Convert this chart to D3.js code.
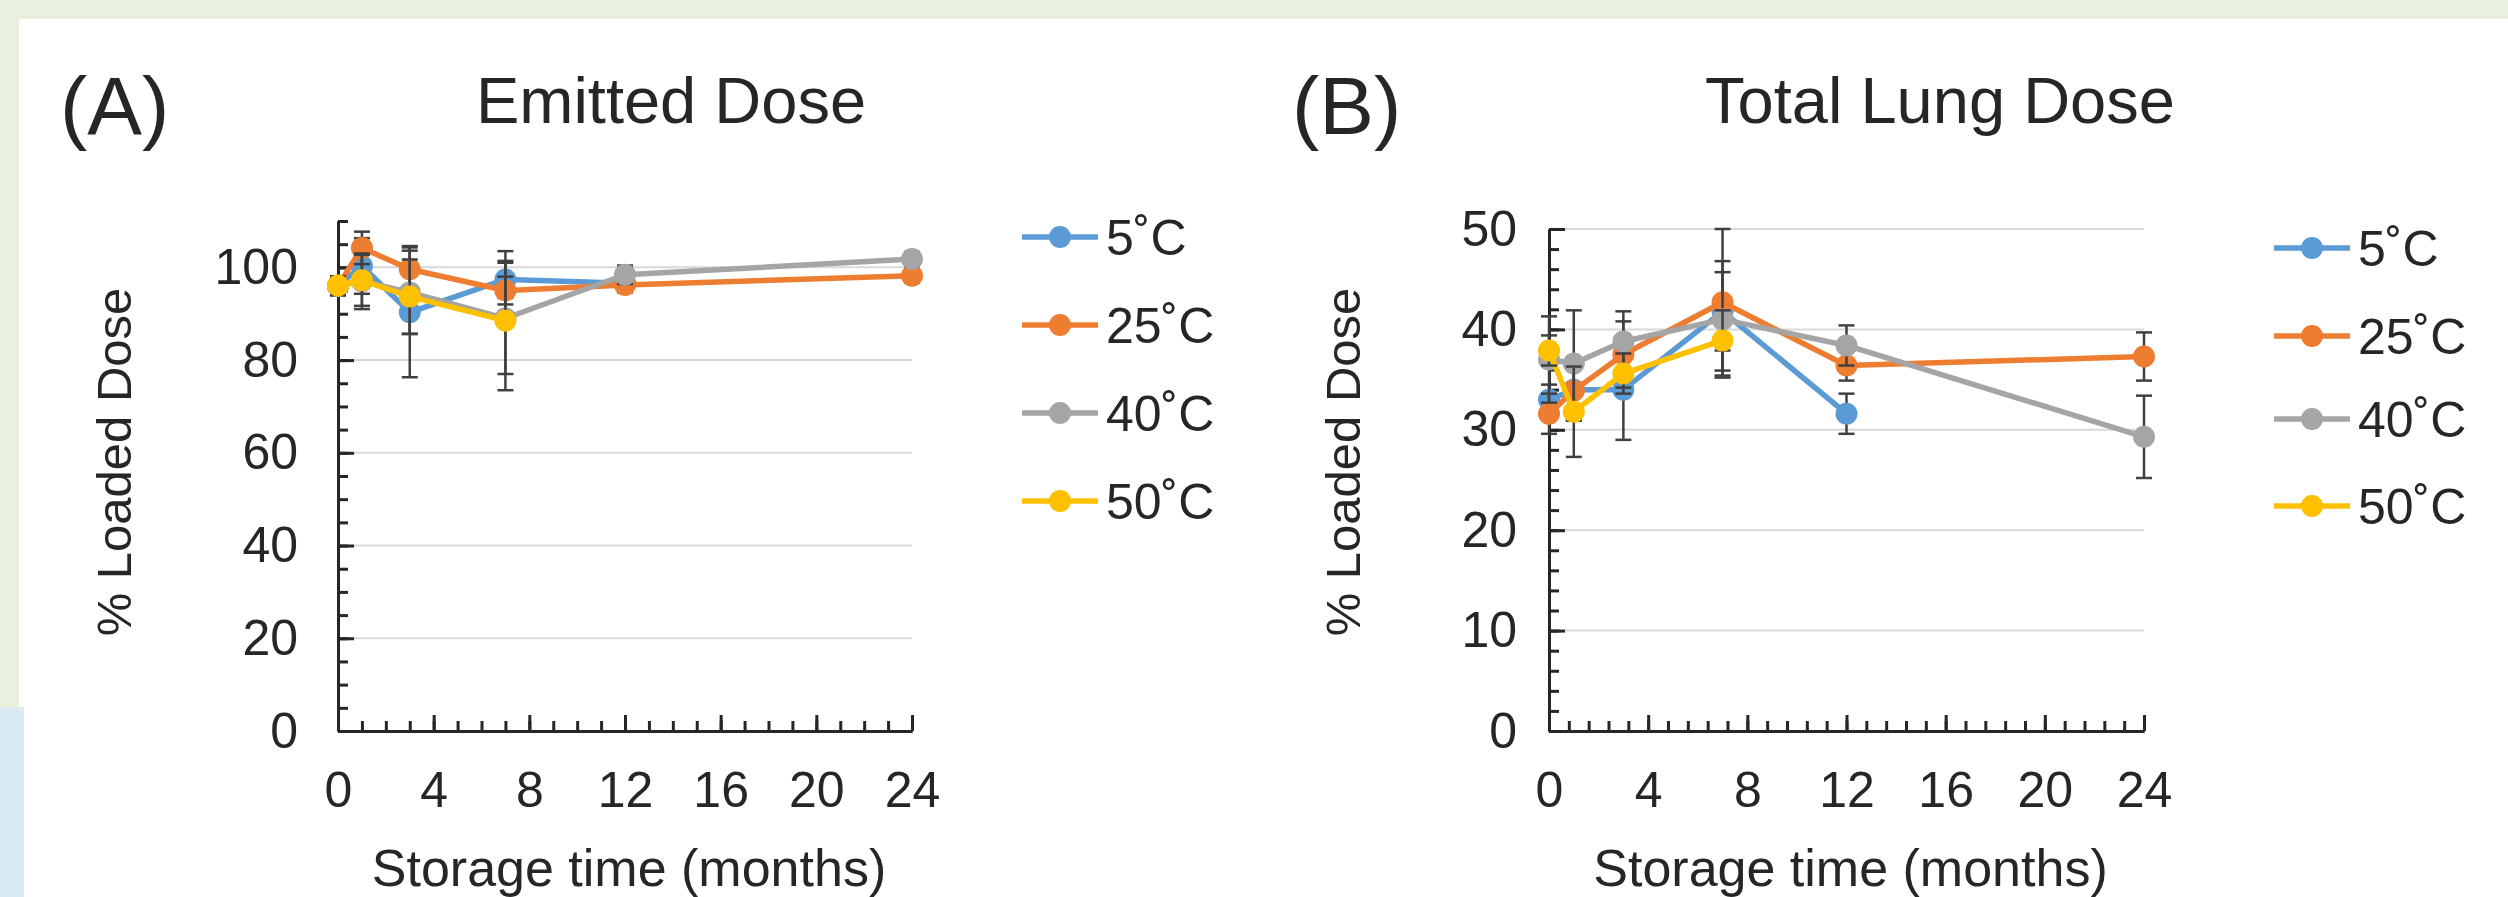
<!DOCTYPE html>
<html>
<head>
<meta charset="utf-8">
<script src="https://cdn.jsdelivr.net/npm/d3@7"></script>
<style>
body { margin: 0; background: #fff; }
svg { display: block; }
</style>
</head>
<body>
<svg id="chart" width="2508" height="897"></svg>
<script>
// storage times (months) and the four storage temperatures
var months = [0, 1, 3, 7, 12, 24];
var seriesNames = ["5˚C", "25˚C", "40˚C", "50˚C"];
var seriesColors = ["#5B9BD5", "#ED7D31", "#A5A5A5", "#FFC000"];

// (A) Emitted dose, % of loaded dose
var emitted5 = [96, 100.3, 90.3, 97.4, 96.6, null];
var emitted25 = [96, 104.2, 99.6, 95.0, 96.2, 98.2];
var emitted40 = [96, 97, 94.6, 89, 98.4, 101.8];
var emitted50 = [96.1, 97.2, 93.7, 88.5, null, null];
var emitted5Err = [2, 6, 14, 4, 2, null];
var emitted25Err = [2, 3.5, 5, 3, 1.5, 1.5];
var emitted40Err = [2, 6, 9, 12, 2, 1.5];
var emitted50Err = [2, 5.5, 8, 15, null, null];

// (B) Total lung dose, % of loaded dose
var lung5 = [33, 34, 34, 41.8, 31.6, null];
var lung25 = [31.6, 33.9, 37.5, 42.7, 36.4, 37.3];
var lung40 = [37, 36.6, 38.8, 41.0, 38.4, 29.3];
var lung50 = [37.9, 31.8, 35.6, 38.9, null, null];
var lung5Err = [1.5, 3, 5, 3.9, 2, null];
var lung25Err = [2, 3, 3.3, 7.3, 1.5, 2.4];
var lung40Err = [4.3, 5.3, 3, 5.8, 2, 4.1];
var lung50Err = [1.5, 4.5, 2, 3, null, null];

// axis ticks
var xTicks = [0, 4, 8, 12, 16, 20, 24];
var yTicksA = [0, 20, 40, 60, 80, 100];
var yTicksB = [0, 10, 20, 30, 40, 50];

var svg = d3.select("#chart");
var font = "'Liberation Sans', Arial, Helvetica, sans-serif";
var ink = "#262626";

// page edges
svg.append("rect").attr("x", 0).attr("y", 0).attr("width", 2508).attr("height", 19).attr("fill", "#E9F0DD");
svg.append("rect").attr("x", 0).attr("y", 0).attr("width", 19).attr("height", 707).attr("fill", "#E9F0DD");
svg.append("rect").attr("x", 0).attr("y", 707).attr("width", 24).attr("height", 190).attr("fill", "#DAEAF2");

function styleAxis(sel) {
	sel.selectAll("path, line").attr("stroke", ink).attr("stroke-width", 3);
	sel.selectAll("text").attr("font-size", 50).attr("font-family", font).attr("fill", ink);
}

function panel(opt) {
	var bottom = 731;
	var x = d3.scaleLinear().domain([0, 24]).range([opt.left, opt.right]);
	var y = d3.scaleLinear().domain([0, opt.yMax]).range([bottom, opt.top]);
	var g = svg.append("g");

	// gridlines
	g.append("g")
		.selectAll("line")
		.data(opt.yTicks.filter((d) => d > 0))
		.join("line")
		.attr("x1", x(0))
		.attr("x2", x(24))
		.attr("y1", (d) => y(d))
		.attr("y2", (d) => y(d))
		.attr("stroke", "#D9D9D9")
		.attr("stroke-width", 2);

	// minor ticks (inside)
	g.append("g")
		.attr("transform", "translate(0," + bottom + ")")
		.call(d3.axisBottom(x).tickValues(d3.range(0, 24.01, opt.xMinor)).tickSize(-10).tickSizeOuter(0).tickFormat(""))
		.call(styleAxis);
	g.append("g")
		.attr("transform", "translate(" + opt.left + ",0)")
		.call(d3.axisLeft(y).tickValues(d3.range(0, opt.yMax + 0.01, opt.yMinor)).tickSize(-10).tickSizeOuter(0).tickFormat(""))
		.call(styleAxis);

	// major ticks + labels
	g.append("g")
		.attr("transform", "translate(0," + bottom + ")")
		.call(d3.axisBottom(x).tickValues(xTicks).tickSize(-16).tickSizeOuter(0).tickPadding(40))
		.call(styleAxis);
	g.append("g")
		.attr("transform", "translate(" + opt.left + ",0)")
		.call(d3.axisLeft(y).tickValues(opt.yTicks).tickSize(-16).tickSizeOuter(0).tickPadding(opt.yPad))
		.call(styleAxis);

	// series: line, error bars, markers
	var line = d3
		.line()
		.defined((d) => d.v != null)
		.x((d) => x(d.t))
		.y((d) => y(d.v));

	opt.values.forEach(function (vals, i) {
		var pts = months.map((t, j) => ({ t: t, v: vals[j], e: opt.errors[i][j] }));
		var s = g.append("g");
		s.append("path")
			.datum(pts)
			.attr("d", line)
			.attr("fill", "none")
			.attr("stroke", seriesColors[i])
			.attr("stroke-width", 5.5)
			.attr("stroke-linejoin", "round");

		var eb = s
			.append("g")
			.selectAll("g")
			.data(pts.filter((d) => d.v != null && d.e != null))
			.join("g")
			.attr("stroke", "#404040")
			.attr("stroke-width", 2.5);
		eb.append("line")
			.attr("x1", (d) => x(d.t))
			.attr("x2", (d) => x(d.t))
			.attr("y1", (d) => y(d.v - d.e))
			.attr("y2", (d) => y(d.v + d.e));
		eb.append("line")
			.attr("x1", (d) => x(d.t) - 8)
			.attr("x2", (d) => x(d.t) + 8)
			.attr("y1", (d) => y(d.v + d.e))
			.attr("y2", (d) => y(d.v + d.e));
		eb.append("line")
			.attr("x1", (d) => x(d.t) - 8)
			.attr("x2", (d) => x(d.t) + 8)
			.attr("y1", (d) => y(d.v - d.e))
			.attr("y2", (d) => y(d.v - d.e));

		s.append("g")
			.selectAll("circle")
			.data(pts.filter((d) => d.v != null))
			.join("circle")
			.attr("cx", (d) => x(d.t))
			.attr("cy", (d) => y(d.v))
			.attr("r", 11)
			.attr("fill", seriesColors[i]);
	});

	// titles
	g.append("text")
		.attr("x", opt.letterX)
		.attr("y", 134)
		.attr("font-size", 82)
		.attr("font-family", font)
		.attr("fill", ink)
		.text(opt.letter);
	g.append("text")
		.attr("x", opt.titleX)
		.attr("y", 123)
		.attr("text-anchor", "middle")
		.attr("font-size", 65)
		.attr("font-family", font)
		.attr("fill", ink)
		.text(opt.title);
	g.append("text")
		.attr("x", (opt.left + opt.right) / 2 + 4)
		.attr("y", 886)
		.attr("text-anchor", "middle")
		.attr("font-size", 52)
		.attr("font-family", font)
		.attr("fill", ink)
		.text("Storage time (months)");
	g.append("text")
		.attr("transform", "translate(" + opt.yTitleX + ",462) rotate(-90)")
		.attr("text-anchor", "middle")
		.attr("dy", "0.35em")
		.attr("font-size", 49)
		.attr("font-family", font)
		.attr("fill", ink)
		.text("% Loaded Dose");

	// legend
	var leg = g
		.append("g")
		.selectAll("g")
		.data(seriesNames)
		.join("g")
		.attr("transform", (d, i) => "translate(" + opt.legX + "," + opt.legRows[i] + ")");
	leg.append("line")
		.attr("x1", 0)
		.attr("x2", 76)
		.attr("stroke", (d, i) => seriesColors[i])
		.attr("stroke-width", 5.5);
	leg.append("circle")
		.attr("cx", 38)
		.attr("r", 11)
		.attr("fill", (d, i) => seriesColors[i]);
	leg.append("text")
		.attr("x", 84)
		.attr("dy", "0.36em")
		.attr("font-size", 50)
		.attr("font-family", font)
		.attr("fill", ink)
		.text((d) => d);
}

panel({
	left: 338,
	right: 912,
	top: 221,
	yMax: 110,
	yTicks: yTicksA,
	yMinor: 5,
	xMinor: 1,
	yPad: 40,
	values: [emitted5, emitted25, emitted40, emitted50],
	errors: [emitted5Err, emitted25Err, emitted40Err, emitted50Err],
	letter: "(A)",
	letterX: 60,
	title: "Emitted Dose",
	titleX: 671,
	yTitleX: 114,
	legX: 1022,
	legRows: [237, 325, 413, 501],
});

panel({
	left: 1549,
	right: 2144,
	top: 229,
	yMax: 50,
	yTicks: yTicksB,
	yMinor: 2,
	xMinor: 0.8,
	yPad: 32,
	values: [lung5, lung25, lung40, lung50],
	errors: [lung5Err, lung25Err, lung40Err, lung50Err],
	letter: "(B)",
	letterX: 1292,
	title: "Total Lung Dose",
	titleX: 1940,
	yTitleX: 1343,
	legX: 2274,
	legRows: [248, 336, 419, 506],
});
</script>
</body>
</html>
